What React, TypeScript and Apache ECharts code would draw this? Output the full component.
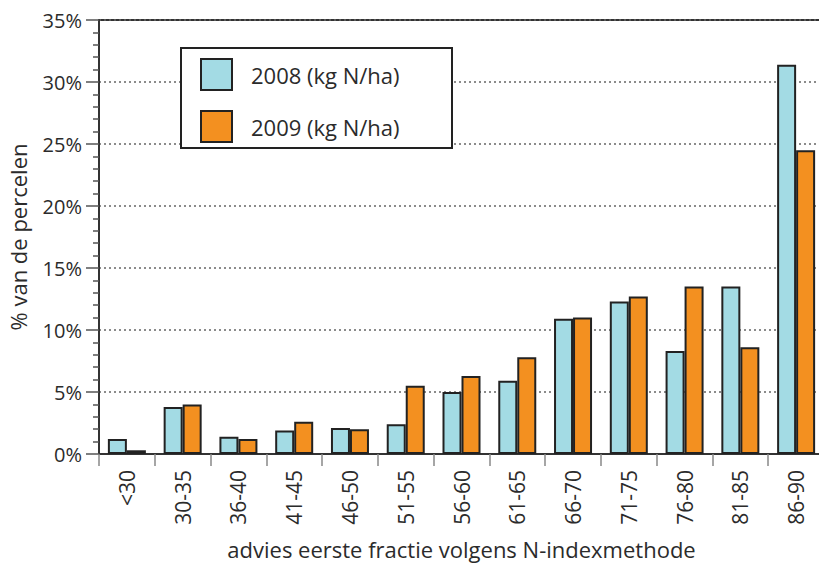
import React, { useEffect, useRef } from "react";
import * as echarts from "echarts";

const categories = ["<30", "30-35", "36-40", "41-45", "46-50", "51-55", "56-60", "61-65", "66-70", "71-75", "76-80", "81-85", "86-90"];
const values2008 = [1.2, 3.8, 1.4, 1.9, 2.1, 2.4, 5.0, 5.9, 10.9, 12.3, 8.3, 13.5, 31.4];
const values2009 = [0.3, 4.0, 1.2, 2.6, 2.0, 5.5, 6.3, 7.8, 11.0, 12.7, 13.5, 8.6, 24.5];
const seriesNames = ["2008 (kg N/ha)", "2009 (kg N/ha)"];
const yTicks = { min: 0, max: 35, interval: 5 };

const FONT = "'Open Sans', sans-serif";
const TEXT = "#2b2b2b";

export default function App() {
  const ref = useRef<HTMLDivElement>(null);
  useEffect(() => {
    if (!ref.current) return;
    const chart = echarts.init(ref.current, undefined, { renderer: "svg" });
    chart.setOption({
      animation: false,
      textStyle: { fontFamily: FONT, color: TEXT },
      grid: {
        left: 99,
        right: -5,
        top: 20,
        bottom: 110,
        show: true,
        borderColor: "#333",
        borderWidth: 2,
        backgroundColor: "transparent",
        outerBoundsMode: "none",
        containLabel: false,
      },
      graphic: [
        {
          type: "rect",
          z: 5,
          shape: { x: 181, y: 48, width: 271, height: 100 },
          style: { fill: "#fff", stroke: "#222", lineWidth: 2 },
        },
      ],
      legend: {
        z: 10,
        orient: "vertical",
        left: 200,
        top: 58,
        padding: 0,
        itemWidth: 31,
        itemHeight: 31,
        itemGap: 19,
        icon: "rect",
        itemStyle: { borderColor: "#222", borderWidth: 2 },
        textStyle: { fontSize: 22, color: TEXT, fontFamily: FONT, padding: [0, 0, 0, 14] },
        data: seriesNames,
      },
      xAxis: {
        type: "category",
        data: categories,
        name: "advies eerste fractie volgens N-indexmethode",
        nameLocation: "middle",
        nameGap: 84,
        nameTextStyle: { fontSize: 22, color: TEXT, fontFamily: FONT },
        axisLine: { lineStyle: { color: "#333", width: 2 } },
        axisTick: { show: true, length: 12, lineStyle: { color: "#888", width: 1.5 } },
        axisLabel: { rotate: 90, fontSize: 21, color: TEXT, margin: 16, fontFamily: FONT },
      },
      yAxis: {
        type: "value",
        min: yTicks.min,
        max: yTicks.max,
        interval: yTicks.interval,
        name: "% van de percelen",
        nameLocation: "middle",
        nameGap: 70,
        nameTextStyle: { fontSize: 22, color: TEXT, fontFamily: FONT },
        axisLine: { show: true, lineStyle: { color: "#333", width: 2 } },
        axisTick: { show: true, length: 13, lineStyle: { color: "#555", width: 1.5 } },
        minorTick: { show: true, splitNumber: 5, length: 6, lineStyle: { color: "#555", width: 1.5 } },
        axisLabel: { formatter: "{value}%", fontSize: 20, color: TEXT, margin: 17, fontFamily: FONT },
        splitLine: {
          show: true,
          lineStyle: { color: "#666", width: 1.5, type: [2, 3] },
        },
      },
      series: [
        {
          name: seriesNames[0],
          type: "bar",
          data: values2008,
          barWidth: 19,
          barGap: "0%",
          itemStyle: { color: "#a3dbe4", borderColor: "#222", borderWidth: 2 },
        },
        {
          name: seriesNames[1],
          type: "bar",
          data: values2009,
          barWidth: 19,
          barGap: "0%",
          itemStyle: { color: "#f39020", borderColor: "#222", borderWidth: 2 },
        },
      ],
    });
    return () => chart.dispose();
  }, []);
  return (
    <div style={{ position: "absolute", left: 0, top: 0, width: 819, height: 564, overflow: "hidden", background: "#fff" }}>
      <div ref={ref} style={{ width: 819, height: 564 }} />
    </div>
  );
}
